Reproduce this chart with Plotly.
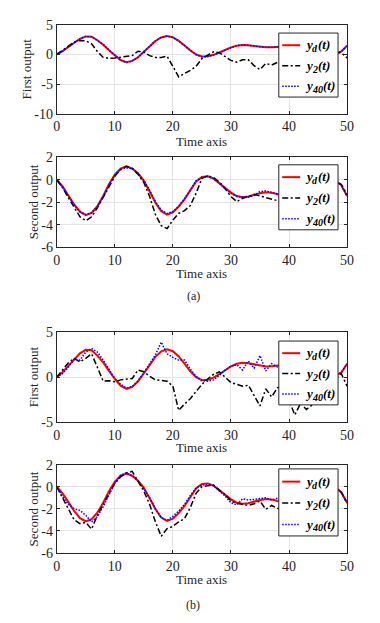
import plotly.graph_objects as go

# ---------------- data ----------------
t = list(range(51))

yd_first = [0, 0.55, 1.25, 2.0, 2.65, 3.05, 3.0, 2.4, 1.65, 0.7,
            -0.2, -0.95, -1.3, -1.08, -0.47, 0.41, 1.39, 2.27, 2.88, 3.1,
            2.89, 2.31, 1.5, 0.66, 0.0, -0.33, -0.3, -0.06, 0.33, 0.78,
            1.2, 1.49, 1.6, 1.55, 1.42, 1.27, 1.2, 1.22, 1.3, 1.38,
            1.43, 1.42, 1.35, 1.22, 1.05, 0.85, 0.6, 0.38, 0.22, 0.5, 1.5]

yd_second = [0, -0.6, -1.4, -2.2, -2.85, -3.15, -2.95, -2.35, -1.45, -0.4,
             0.45, 1.0, 1.2, 1.0, 0.55, -0.1, -1.05, -2.05, -2.8, -3.1,
             -2.9, -2.4, -1.75, -0.9, -0.15, 0.25, 0.3, 0.1, -0.3, -0.75,
             -1.15, -1.45, -1.55, -1.5, -1.35, -1.2, -1.12, -1.15, -1.3, -1.45,
             -1.55, -1.6, -1.55, -1.4, -1.15, -0.85, -0.5, -0.2, -0.05, -0.5, -1.45]

# (a) panels
y2_a_first = [0, 0.7, 1.5, 2.1, 2.35, 2.3, 1.8, 0.5, -0.5, -0.65,
              -0.6, -0.45, -0.35, -0.2, 0.55, 0.4, -0.2, -0.5, -0.5, -0.3,
              -2.0, -3.8, -3.2, -2.7, -2.0, -0.7, -0.1, 0.45, 0.3, -0.3,
              -1.0, -1.3, -0.9, -0.9, -1.9, -2.55, -1.5, -1.8, -1.4, -0.9,
              -1.0, -1.2, -0.9, -0.7, -0.5, -0.3, -0.1, 0.1, 0.3, 0.3, -0.6]

y40_a_first = [0, 0.55, 1.3, 2.0, 2.65, 3.05, 3.0, 2.35, 1.7, 0.75,
               -0.15, -0.95, -1.4, -1.1, -0.45, 0.4, 1.4, 2.3, 2.9, 3.1,
               2.9, 2.3, 1.5, 0.65, -0.05, -0.4, -0.35, -0.1, 0.3, 0.75,
               1.2, 1.5, 1.6, 1.55, 1.45, 1.3, 1.2, 1.2, 1.3, 1.4,
               1.45, 1.45, 1.35, 1.2, 1.05, 0.85, 0.6, 0.4, 0.2, 0.5, 1.5]

y2_a_second = [0, -0.7, -1.6, -2.5, -3.3, -3.65, -3.3, -2.5, -1.6, -0.6,
               0.3, 0.9, 1.2, 1.0, 0.5, -0.25, -1.5, -3.1, -4.1, -4.35,
               -3.6, -3.0, -2.75, -2.3, -1.2, 0.1, 0.35, 0.2, -0.2, -0.8,
               -1.5, -1.95, -1.65, -1.5, -1.3, -1.45, -1.6, -1.7, -1.85, -2.0,
               -2.0, -1.9, -1.7, -1.4, -1.1, -0.8, -0.5, -0.3, -0.2, -0.4, -1.3]

y40_a_second = [0, -0.65, -1.45, -2.25, -2.85, -3.1, -2.95, -2.4, -1.5, -0.45,
                0.4, 0.95, 1.05, 1.0, 0.6, -0.05, -0.95, -1.95, -2.7, -3.0,
                -2.85, -2.35, -1.7, -0.85, -0.1, 0.2, 0.3, 0.1, -0.3, -0.8,
                -1.2, -1.5, -1.55, -1.55, -1.4, -1.05, -1.0, -1.1, -1.25, -1.45,
                -1.55, -1.6, -1.55, -1.4, -1.15, -0.85, -0.5, -0.2, -0.05, -0.5, -1.45]

# (b) panels
y2_b_first = [0, 0.8, 1.6, 2.1, 1.7, 2.1, 2.6, 1.1, -0.45, -0.4,
              -0.5, -0.3, -0.25, -0.15, 0.8, 0.6, 0.1, -0.3, -0.35, -0.45,
              -1.0, -3.7, -3.0, -2.4, -1.6, -0.8, -0.2, 0.3, 0.6, 0.0,
              -0.6, -0.8, -1.0, -0.9, -2.0, -3.2, -1.3, -2.2, -1.2, -0.9,
              -2.6, -4.2, -2.9, -3.6, -3.1, -2.4, -1.8, -1.0, -0.2, 0.4, -1.0]

y40_b_first = [0, 0.4, 1.1, 2.0, 1.9, 2.8, 3.2, 2.8, 1.9, 0.8,
               -0.15, -0.8, -1.2, -1.05, -0.4, 0.5, 1.5, 2.5, 3.9, 2.6,
               2.2, 1.9, 1.9, 0.9, 0.1, -0.4, -0.45, -0.3, 0.2, 0.8,
               1.2, 1.4, 0.8, 1.8, 1.0, 2.4, 0.7, 1.5, 1.15, 1.4,
               1.5, 1.3, 1.4, 1.2, 1.1, 0.8, 0.6, 0.35, 0.2, 0.5, 1.5]

y2_b_second = [0, -1.0, -2.1, -3.0, -3.35, -3.25, -3.85, -2.6, -1.6, -0.7,
               0.3, 0.9, 1.25, 1.4, 0.5, -0.4, -1.6, -3.2, -4.5, -3.8,
               -3.6, -3.2, -2.9, -1.9, -0.6, 0.0, 0.1, 0.15, -0.3, -0.7,
               -1.3, -1.5, -1.6, -1.7, -1.55, -1.3, -2.05, -1.7, -1.95, -2.1,
               -2.0, -1.9, -1.8, -1.6, -1.3, -1.0, -0.6, -0.3, -0.1, -0.5, -1.5]

y40_b_second = [0, -0.9, -1.6, -2.0, -2.15, -2.6, -3.2, -2.7, -1.8, -0.7,
                0.3, 1.05, 1.25, 1.0, 0.5, -0.2, -1.0, -2.0, -2.8, -3.05,
                -2.7, -2.2, -1.6, -0.8, -0.1, 0.15, 0.2, 0.1, -0.4, -0.85,
                -1.45, -1.65, -1.1, -1.2, -1.15, -1.1, -1.0, -1.2, -1.05, -1.3,
                -1.5, -1.55, -1.5, -1.35, -1.1, -0.8, -0.45, -0.2, -0.05, -0.5, -1.45]

x_ticks = [0, 10, 20, 30, 40, 50]
x_tick_labels = ["0", "10", "20", "30", "40", "50"]
y_ticks_first_a = [-10, -5, 0, 5]
y_tick_labels_first_a = ["-10", "-5", "0", "5"]
y_ticks_second = [-6, -4, -2, 0, 2]
y_tick_labels_second = ["-6", "-4", "-2", "0", "2"]
y_ticks_first_b = [-5, 0, 5]
y_tick_labels_first_b = ["-5", "0", "5"]

series_names = ["y_d(t)", "y_2(t)", "y_40(t)"]
legend_base = "y"
legend_subs = ["d", "2", "40"]
legend_tail = "(t)"
x_title = "Time axis"
y_titles = ["First output", "Second output", "First output", "Second output"]
captions = ["(a)", "(b)"]

# ---------------- layout geometry (pixels) ----------------
W, H = 380, 623
FONT = "Liberation Serif, Times New Roman, serif"
TXT = "#262626"


def fx(px):
    return px / W


def fy(py):
    return 1 - py / H


X_LEFT, X_RIGHT = 54.3, 353.3

panels = [
    dict(top=18.3, bottom=109.3, yr=[-10, 5], yt=y_ticks_first_a, ytl=y_tick_labels_first_a,
         ytx=22.8, xty=138.3, leg=(26.7, 92.3),
         data=(yd_first, y2_a_first, y40_a_first)),
    dict(top=154.0, bottom=246.0, yr=[-6, 2], yt=y_ticks_second, ytl=y_tick_labels_second,
         ytx=30.0, xty=273.3, leg=(161.7, 228.3),
         data=(yd_second, y2_a_second, y40_a_second)),
    dict(top=333.3, bottom=425.3, yr=[-5, 5], yt=y_ticks_first_b, ytl=y_tick_labels_first_b,
         ytx=30.0, xty=451.7, leg=(342.3, 407.7),
         data=(yd_first, y2_b_first, y40_b_first)),
    dict(top=469.0, bottom=559.3, yr=[-6, 2], yt=y_ticks_second, ytl=y_tick_labels_second,
         ytx=30.5, xty=587.0, leg=(473.3, 542.0),
         data=(yd_second, y2_b_second, y40_b_second)),
]

styles = [
    dict(color="#ff0000", width=2.0, dash="solid"),
    dict(color="#000000", width=1.5, dash="6px,2.5px,2px,2.5px"),
    dict(color="#0000ff", width=1.5, dash="1.5px,1.5px"),
]

# approximate advance widths (px) for the legend label pieces
SUB_W = {"d": 6.0, "2": 6.0, "40": 11.0}
Y_W = 7.5

fig = go.Figure()
shapes = []
annotations = []
layout_axes = {}


def ann(text, x, y, size, xanchor="left", yanchor="middle", angle=0, color=TXT, bold_italic=False):
    if bold_italic:
        text = "<b><i>" + text + "</i></b>"
    return dict(text=text, xref="paper", yref="paper", x=x, y=y,
                xanchor=xanchor, yanchor=yanchor, textangle=angle, showarrow=False,
                borderpad=0, borderwidth=0,
                font=dict(family=FONT, size=size, color=color))


for i, p in enumerate(panels):
    n = "" if i == 0 else str(i + 1)
    for k in range(3):
        fig.add_trace(go.Scatter(
            x=t, y=p["data"][k], mode="lines", line=styles[k],
            name=series_names[k], showlegend=False,
            xaxis="x" + n, yaxis="y" + n, hoverinfo="skip"))

    common = dict(showgrid=True, gridcolor="#e4e4e4", gridwidth=1,
                  showline=True, linecolor=TXT, linewidth=1, mirror="ticks",
                  ticks="inside", ticklen=3, tickcolor=TXT, zeroline=False,
                  tickfont=dict(family=FONT, size=14, color=TXT), fixedrange=True)
    layout_axes["xaxis" + n] = dict(common, domain=[fx(X_LEFT), fx(X_RIGHT)], anchor="y" + n,
                                    range=[0, 50], tickvals=x_ticks, ticktext=x_tick_labels)
    layout_axes["yaxis" + n] = dict(common, domain=[fy(p["bottom"]), fy(p["top"])], anchor="x" + n,
                                    range=p["yr"], tickvals=p["yt"], ticktext=p["ytl"])

    # axis titles
    annotations.append(ann(x_title, fx((X_LEFT + X_RIGHT) / 2), fy(p["xty"]), 13, xanchor="center"))
    annotations.append(ann(y_titles[i], fx(p["ytx"]), fy((p["top"] + p["bottom"]) / 2), 13,
                           xanchor="center", angle=-90))

    # legend box
    lt, lb = p["leg"]
    lx0, lx1 = 283.0, 344.0
    shapes.append(dict(type="rect", xref="paper", yref="paper",
                       x0=fx(lx0), x1=fx(lx1), y0=fy(lb), y1=fy(lt),
                       fillcolor="white", line=dict(color=TXT, width=1), layer="above"))
    h = lb - lt
    for k in range(3):
        yy = lt + h * (0.19 + 0.32 * k)
        shapes.append(dict(type="line", xref="paper", yref="paper",
                           x0=fx(286.5), x1=fx(305.0), y0=fy(yy), y1=fy(yy),
                           line=styles[k], layer="above"))
        x0 = 310.0
        annotations.append(ann(legend_base, fx(x0), fy(yy - 0.5), 13, color="#000000", bold_italic=True))
        annotations.append(ann(legend_subs[k], fx(x0 + Y_W), fy(yy + 3.5), 10, color="#000000",
                               bold_italic=True))
        annotations.append(ann(legend_tail, fx(x0 + Y_W + SUB_W[legend_subs[k]]), fy(yy - 0.5), 13,
                               color="#000000", bold_italic=True))

annotations.append(ann(captions[0], fx(195.5), fy(296.5), 12, xanchor="center"))
annotations.append(ann(captions[1], fx(194.5), fy(613.0), 12, xanchor="center"))

fig.update_layout(width=W, height=H, margin=dict(l=0, r=0, t=0, b=0, pad=0),
                  paper_bgcolor="white", plot_bgcolor="white", showlegend=False,
                  shapes=shapes, annotations=annotations,
                  font=dict(family=FONT, size=13, color=TXT), **layout_axes)

fig.write_html("out.html", config={"displayModeBar": False},
               post_script="document.body.style.margin='0px';")
